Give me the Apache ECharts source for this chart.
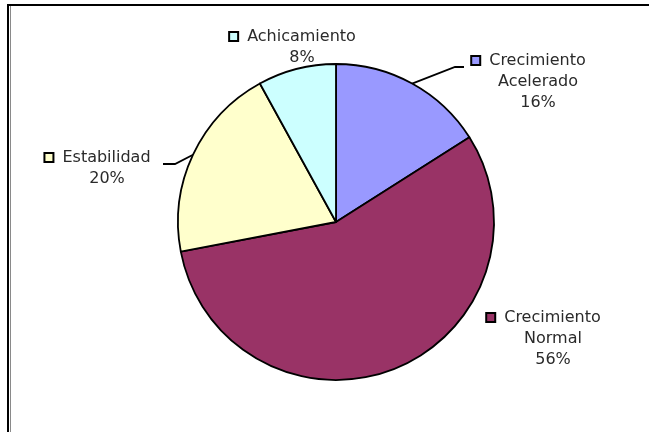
<!DOCTYPE html>
<html>
<head>
<meta charset="utf-8">
<script src="https://cdn.jsdelivr.net/npm/echarts@6/dist/echarts.min.js"></script>
<style>
  html, body { margin: 0; padding: 0; background: #fff; overflow: hidden; }
  #frame {
    position: absolute; left: 7px; top: 4px; width: 660px; height: 440px;
    border-top: 2px solid #000; border-left: 2px solid #000;
  }
  #frame-inner {
    position: absolute; left: 10px; top: 6px; width: 1px; height: 440px; background: #8a8a8a;
  }
  #chart { position: absolute; left: 0; top: 0; width: 649px; height: 432px; }
</style>
</head>
<body>
<div id="frame"></div>
<div id="frame-inner"></div>
<div id="chart"></div>
<script>
// Distribution of growth stages (share, %)
const categories = ['Crecimiento Acelerado', 'Crecimiento Normal', 'Estabilidad', 'Achicamiento'];
const labelLines = [['Crecimiento', 'Acelerado'], ['Crecimiento', 'Normal'], ['Estabilidad'], ['Achicamiento']];
const shares = [16, 56, 20, 8];
const sliceColors = ['#9999FF', '#993366', '#FFFFCC', '#CCFFFF'];

// Label placement (text centre x, top y) and optional leader-line bend/end points
const labelPlacement = [
  { x: 538, y: 50, line: [[455, 67], [464, 67]] },
  { x: 553, y: 307, line: null },
  { x: 107, y: 147, line: [[175, 164], [163, 164]] },
  { x: 302, y: 26, line: null }
];

const FONT = '"DejaVu Sans", Verdana, sans-serif';

const rich = {
  t: { fontFamily: FONT, fontSize: 16, color: '#2a2a2a', lineHeight: 21 },
  g: { width: 10, lineHeight: 21 },
  s: { width: 18, lineHeight: 21 }
};
sliceColors.forEach((c, i) => {
  rich['k' + i] = {
    width: 7, height: 7, backgroundColor: c,
    borderColor: '#000', borderWidth: 2, verticalAlign: 'middle'
  };
});

const data = categories.map((name, i) => ({
  name: name,
  value: shares[i],
  itemStyle: { color: sliceColors[i] },
  labelLine: { show: !!labelPlacement[i].line }
}));

const chart = echarts.init(document.getElementById('chart'), null, { renderer: 'canvas' });
chart.setOption({
  backgroundColor: 'transparent',
  animation: false,
  series: [{
    type: 'pie',
    center: [336, 222],
    radius: 158,
    startAngle: 90,
    clockwise: true,
    avoidLabelOverlap: false,
    itemStyle: { borderColor: '#000', borderWidth: 1.8 },
    emphasis: { disabled: true },
    label: {
      show: true,
      position: 'outside',
      rich: rich,
      formatter: function (p) {
        const i = p.dataIndex;
        const lines = labelLines[i];
        const out = ['{k' + i + '|}{g|}{t|' + lines[0] + '}{s|}'];
        for (let j = 1; j < lines.length; j++) out.push('{t|' + lines[j] + '}');
        out.push('{t|' + p.value + '%}');
        return out.join('\n');
      }
    },
    labelLine: {
      smooth: false,
      lineStyle: { color: '#000', width: 1.8 }
    },
    labelLayout: function (params) {
      const spec = labelPlacement[params.dataIndex];
      const res = { x: spec.x, y: spec.y, align: 'center', verticalAlign: 'top' };
      if (spec.line && params.labelLinePoints) {
        res.labelLinePoints = [params.labelLinePoints[0], spec.line[0], spec.line[1]];
      }
      return res;
    },
    data: data
  }]
});
</script>
</body>
</html>
